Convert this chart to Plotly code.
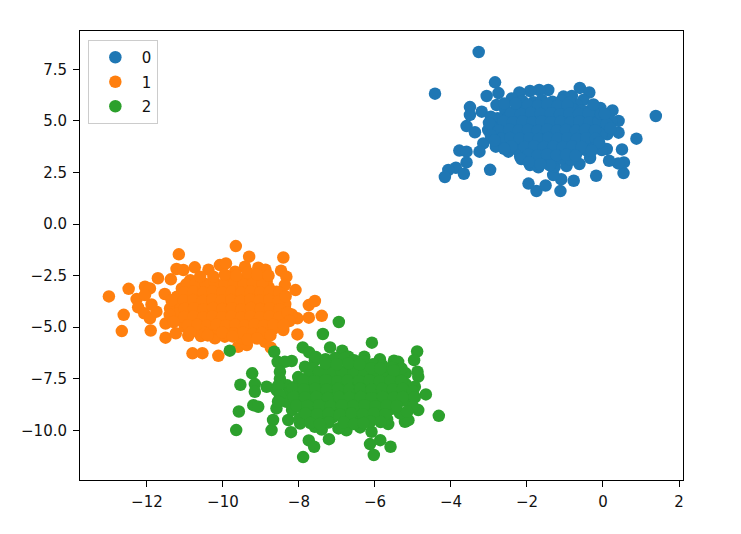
import plotly.graph_objects as go

# points, (x, y)
points_0 = [
    (-3.27, 8.34), (-4.42, 6.32), (-2.84, 6.87), (-2.75, 6.35), (-3.06, 6.21), (-3.50, 5.67),
    (-3.50, 5.29), (-3.59, 4.75), (-3.37, 4.45), (-3.15, 3.91), (-3.78, 3.56), (-3.59, 3.51),
    (-3.59, 2.99), (-3.25, 3.51), (-3.87, 2.73), (-4.07, 2.62), (-4.16, 2.28), (-3.66, 2.44),
    (-2.97, 2.63), (-2.82, 3.75), (-1.96, 1.96), (-1.75, 1.60), (-1.51, 1.87), (-1.12, 1.60),
    (-1.10, 2.17), (-0.77, 2.10), (-0.18, 2.34), (0.54, 2.47), (0.55, 2.99), (0.40, 2.94),
    (0.16, 3.07), (0.10, 3.64), (0.50, 3.62), (0.88, 4.14), (1.39, 5.24), (0.41, 4.43),
    (0.41, 5.00), (0.25, 5.51), (-0.07, 5.63), (0.11, 4.35), (-0.34, 3.20), (-0.62, 2.91),
    (-0.96, 2.81), (-1.31, 2.38), (-1.27, 2.78), (-0.61, 6.60), (-0.36, 6.38), (-0.52, 6.01),
    (-0.82, 6.21), (-1.04, 6.18), (-1.44, 6.50), (-1.68, 6.50), (-1.92, 6.45), (-2.20, 6.38),
    (-2.40, 6.09), (-2.80, 5.77), (-3.19, 5.45), (-3.02, 4.56), (-2.49, 3.51), (-2.18, 3.27),
    (-1.92, 2.86), (-1.70, 2.75), (-0.03, 3.59), (-0.17, 3.91), (0.23, 4.96), (0.01, 5.12),
    (-0.43, 5.45), (-0.69, 5.77),
    (-2.12, 5.97), (-1.83, 5.91), (-1.61, 6.02), (-1.33, 5.93), (-1.09, 5.99), (-0.87, 5.88),
    (-2.57, 5.52), (-2.28, 5.61), (-2.03, 5.49), (-1.82, 5.58), (-1.53, 5.51), (-1.31, 5.62),
    (-1.04, 5.47), (-0.79, 5.56), (-0.57, 5.49), (-0.28, 5.58),
    (-2.77, 5.13), (-2.48, 5.21), (-2.26, 5.08), (-1.98, 5.18), (-1.77, 5.11), (-1.49, 5.22),
    (-1.24, 5.09), (-1.02, 5.17), (-0.73, 5.12), (-0.51, 5.23), (-0.24, 5.07),
    (-2.92, 4.73), (-2.64, 4.81), (-2.41, 4.69), (-2.13, 4.78), (-1.92, 4.72), (-1.63, 4.83),
    (-1.41, 4.68), (-1.14, 4.79), (-0.91, 4.71), (-0.64, 4.82), (-0.42, 4.69), (-0.13, 4.77),
    (0.12, 4.72),
    (-2.81, 4.33), (-2.53, 4.41), (-2.31, 4.29), (-2.04, 4.38), (-1.79, 4.31), (-1.56, 4.42),
    (-1.28, 4.28), (-1.06, 4.37), (-0.78, 4.32), (-0.56, 4.43), (-0.29, 4.27), (-0.04, 4.36),
    (-2.62, 3.93), (-2.33, 4.01), (-2.11, 3.89), (-1.84, 3.98), (-1.58, 3.91), (-1.36, 4.02),
    (-1.08, 3.88), (-0.86, 3.97), (-0.59, 3.92), (-0.34, 4.03),
    (-2.21, 3.53), (-1.93, 3.61), (-1.71, 3.49), (-1.44, 3.58), (-1.18, 3.52), (-0.96, 3.62),
    (-0.69, 3.48), (-0.44, 3.57),
    (-1.86, 3.13), (-1.58, 3.21), (-1.36, 3.08), (-1.09, 3.17), (-0.84, 3.11),
    # dense middle of the blob
    (-1.97, 5.78), (-1.71, 5.74), (-1.46, 5.79), (-1.19, 5.73), (-0.94, 5.76), (-2.42, 5.36),
    (-2.16, 5.33), (-1.89, 5.38), (-1.64, 5.34), (-1.37, 5.37), (-1.13, 5.32), (-0.88, 5.36),
    (-0.63, 5.33), (-0.38, 5.37), (-2.62, 4.96), (-2.37, 4.94), (-2.11, 4.98), (-1.86, 4.93),
    (-1.61, 4.97), (-1.37, 4.94), (-1.11, 4.96), (-0.86, 4.92), (-0.62, 4.97), (-0.36, 4.94),
    (-0.12, 4.96), (-2.74, 4.54), (-2.47, 4.57), (-2.22, 4.53), (-1.97, 4.56), (-1.72, 4.52),
    (-1.47, 4.57), (-1.21, 4.53), (-0.97, 4.56), (-0.71, 4.52), (-0.47, 4.57), (-0.21, 4.54),
    (-2.68, 4.14), (-2.44, 4.17), (-2.19, 4.13), (-1.94, 4.16), (-1.69, 4.12), (-1.44, 4.17),
    (-1.19, 4.13), (-0.94, 4.16), (-0.69, 4.12), (-0.44, 4.16), (-0.19, 4.13), (-2.41, 3.76),
    (-2.06, 3.74), (-1.81, 3.77), (-1.56, 3.73), (-1.31, 3.76), (-1.06, 3.73), (-0.81, 3.77),
    (-0.56, 3.74), (-1.97, 3.36), (-1.72, 3.33), (-1.47, 3.37), (-1.22, 3.33), (-0.97, 3.36),
    (-0.72, 3.32),
    # outer edge of the mass
    (-2.95, 5.20), (-3.00, 4.90), (-2.95, 4.30), (-2.85, 4.05), (-2.60, 3.65), (-0.05, 5.35),
    (0.10, 4.85), (0.20, 4.65), (-0.10, 3.95), (-0.30, 3.55), (-2.15, 3.15), (-1.95, 3.00),
    (-1.40, 2.85), (-1.65, 2.90), (-2.60, 5.85), (-2.30, 5.85), (-0.25, 5.80), (0.05, 5.35),
]

points_1 = [
    (-9.66, -1.07), (-11.16, -1.47), (-9.31, -1.58), (-8.41, -1.62), (-9.42, -2.07), (-10.74, -2.10),
    (-11.22, -2.18), (-11.04, -2.23), (-10.38, -2.21), (-10.08, -1.99), (-9.92, -1.91), (-9.07, -2.12),
    (-8.88, -2.21), (-8.47, -2.26), (-8.33, -2.55), (-11.71, -2.63), (-11.37, -2.68), (-9.68, -2.31),
    (-12.05, -3.04), (-11.92, -3.12), (-12.48, -3.14), (-13.00, -3.51), (-8.09, -3.20), (-8.37, -2.96),
    (-11.53, -3.39), (-12.27, -3.64), (-12.23, -4.04), (-12.07, -4.33), (-11.92, -4.57), (-11.75, -4.25),
    (-11.88, -3.90), (-12.05, -3.44), (-12.61, -4.40), (-12.66, -5.19), (-11.90, -5.16), (-11.51, -4.82),
    (-11.51, -5.51), (-11.24, -5.30), (-10.91, -5.42), (-10.58, -5.43), (-10.21, -5.54), (-9.95, -5.46),
    (-9.60, -5.95), (-9.37, -5.87), (-10.80, -6.27), (-10.54, -6.26), (-10.12, -6.39), (-8.89, -5.71),
    (-8.74, -5.99), (-8.81, -5.14), (-8.41, -5.14), (-8.04, -5.35), (-7.74, -4.54), (-7.40, -4.45),
    (-7.74, -3.93), (-7.58, -3.73), (-8.04, -4.57), (-8.19, -4.38), (-8.37, -4.01), (-8.59, -3.28),
    (-8.85, -2.80), (-11.39, -4.09), (-11.00, -4.98), (-9.16, -5.38), (-9.51, -5.54),
    (-10.86, -2.72), (-10.61, -2.66), (-9.91, -2.69), (-9.63, -2.74), (-9.41, -2.65), (-9.13, -2.71),
    (-8.92, -2.67),
    (-11.08, -3.12), (-10.81, -3.05), (-10.53, -3.14), (-10.31, -3.07), (-10.04, -3.11), (-9.79, -3.04),
    (-9.56, -3.13), (-9.28, -3.06), (-9.06, -3.12), (-8.79, -3.08),
    (-11.21, -3.52), (-10.93, -3.47), (-10.71, -3.55), (-10.44, -3.46), (-10.19, -3.53), (-9.96, -3.48),
    (-9.68, -3.54), (-9.46, -3.45), (-9.18, -3.52), (-8.96, -3.49), (-8.69, -3.56), (-8.46, -3.48),
    (-11.12, -3.92), (-10.84, -3.87), (-10.62, -3.95), (-10.33, -3.86), (-10.11, -3.93), (-9.84, -3.88),
    (-9.59, -3.94), (-9.36, -3.85), (-9.09, -3.92), (-8.86, -3.89), (-8.58, -3.96), (-8.36, -3.88),
    (-11.19, -4.32), (-10.91, -4.27), (-10.69, -4.35), (-10.41, -4.26), (-10.16, -4.33), (-9.94, -4.28),
    (-9.66, -4.34), (-9.44, -4.25), (-9.16, -4.32), (-8.94, -4.29), (-8.66, -4.36), (-8.44, -4.28),
    (-11.06, -4.72), (-10.78, -4.67), (-10.56, -4.75), (-10.28, -4.66), (-10.03, -4.73), (-9.81, -4.68),
    (-9.53, -4.74), (-9.31, -4.65), (-9.03, -4.72), (-8.81, -4.69), (-8.53, -4.76),
    (-10.88, -5.12), (-10.63, -5.07), (-10.36, -5.15), (-10.13, -5.06), (-9.86, -5.13), (-9.63, -5.08),
    (-9.36, -5.14), (-9.11, -5.05), (-8.86, -5.12), (-8.68, -5.09),
    # dense middle of the blob
    (-10.96, -2.92), (-10.71, -2.87), (-10.46, -2.91), (-10.21, -2.86), (-9.96, -2.93), (-9.71, -2.88),
    (-9.46, -2.92), (-9.21, -2.87), (-8.96, -2.91), (-11.02, -3.31), (-10.77, -3.28), (-10.52, -3.33),
    (-10.27, -3.27), (-10.02, -3.32), (-9.77, -3.28), (-9.52, -3.33), (-9.27, -3.27), (-9.02, -3.32),
    (-8.77, -3.28), (-8.52, -3.33), (-11.03, -3.71), (-10.78, -3.68), (-10.53, -3.73), (-10.28, -3.67),
    (-10.03, -3.72), (-9.78, -3.68), (-9.53, -3.73), (-9.28, -3.67), (-9.03, -3.72), (-8.78, -3.68),
    (-8.53, -3.73), (-11.01, -4.11), (-10.76, -4.08), (-10.51, -4.13), (-10.26, -4.07), (-10.01, -4.12),
    (-9.76, -4.08), (-9.51, -4.13), (-9.26, -4.07), (-9.01, -4.12), (-8.76, -4.08), (-8.51, -4.13),
    (-11.02, -4.51), (-10.77, -4.48), (-10.52, -4.53), (-10.27, -4.47), (-10.02, -4.52), (-9.77, -4.48),
    (-9.52, -4.53), (-9.27, -4.47), (-9.02, -4.52), (-8.77, -4.48), (-8.52, -4.53), (-10.92, -4.91),
    (-10.67, -4.88), (-10.42, -4.93), (-10.17, -4.87), (-9.92, -4.92), (-9.67, -4.88), (-9.42, -4.93),
    (-9.17, -4.87), (-8.92, -4.92), (-8.67, -4.88), (-10.47, -5.28), (-10.02, -5.26), (-9.72, -5.31),
    (-9.47, -5.27), (-9.22, -5.32), (-8.97, -5.28),
    # outer edge of the mass
    (-11.35, -3.70), (-11.40, -4.40), (-11.30, -4.75), (-8.35, -3.50), (-8.30, -4.30), (-8.25, -4.70),
    (-8.40, -4.90), (-10.60, -2.55), (-10.25, -2.55), (-9.95, -2.45), (-9.65, -2.50), (-9.35, -2.35),
    (-9.10, -2.45), (-8.80, -2.50), (-10.85, -5.25), (-10.40, -5.40), (-9.75, -5.45), (-9.35, -5.60),
    (-9.10, -5.55), (-8.75, -5.40),
]

points_2 = [
    (-9.82, -6.14), (-6.95, -4.75), (-7.37, -5.33), (-6.08, -5.75), (-4.89, -6.18), (-4.97, -6.60),
    (-7.90, -5.98), (-7.73, -6.22), (-7.18, -5.98), (-6.86, -6.14), (-8.65, -6.19), (-8.56, -6.68),
    (-8.19, -6.64), (-8.37, -6.68), (-9.23, -7.24), (-9.54, -7.79), (-9.16, -7.76), (-9.16, -8.13),
    (-8.85, -7.89), (-8.59, -8.05), (-8.50, -7.16), (-9.20, -8.78), (-9.07, -8.86), (-9.58, -9.09),
    (-8.68, -9.50), (-8.72, -9.99), (-9.65, -9.99), (-8.21, -10.09), (-7.74, -10.49), (-7.60, -10.80),
    (-7.89, -11.30), (-7.21, -10.43), (-6.75, -10.00), (-6.96, -9.91), (-7.40, -9.96), (-6.39, -9.86),
    (-6.09, -10.07), (-6.13, -10.67), (-5.86, -10.48), (-6.03, -11.20), (-5.59, -10.80), (-5.65, -9.70),
    (-5.21, -9.59), (-5.12, -9.51), (-4.32, -9.30), (-4.86, -9.02), (-4.66, -8.26), (-4.86, -7.40),
    (-4.88, -7.16), (-5.19, -7.24), (-5.50, -6.63), (-5.39, -6.68), (-5.87, -6.55), (-6.28, -6.43),
    (-5.74, -7.16), (-8.59, -8.94), (-8.28, -9.50), (-7.97, -9.67), (-7.58, -9.83), (-4.95, -7.89),
    (-5.08, -8.54), (-5.34, -9.18), (-6.09, -7.16), (-6.70, -6.43), (-7.58, -6.60), (-7.84, -6.92),
    (-7.62, -7.02), (-7.28, -6.96), (-7.03, -7.05), (-6.68, -6.94), (-6.42, -7.03), (-6.13, -6.97),
    (-8.02, -7.42), (-7.74, -7.36), (-7.46, -7.45), (-7.17, -7.37), (-6.88, -7.43), (-6.61, -7.35),
    (-6.32, -7.44), (-6.04, -7.38), (-5.76, -7.46), (-5.47, -7.36),
    (-8.31, -7.82), (-8.03, -7.76), (-7.72, -7.85), (-7.44, -7.77), (-7.13, -7.83), (-6.86, -7.75),
    (-6.57, -7.84), (-6.27, -7.78), (-5.99, -7.86), (-5.68, -7.76), (-5.41, -7.83), (-5.18, -7.77),
    (-8.28, -8.22), (-7.99, -8.16), (-7.68, -8.25), (-7.41, -8.17), (-7.09, -8.23), (-6.82, -8.15),
    (-6.53, -8.24), (-6.23, -8.18), (-5.94, -8.26), (-5.65, -8.16), (-5.37, -8.23), (-5.13, -8.17),
    (-8.33, -8.62), (-8.04, -8.56), (-7.73, -8.65), (-7.45, -8.57), (-7.14, -8.63), (-6.87, -8.55),
    (-6.58, -8.64), (-6.28, -8.58), (-5.99, -8.66), (-5.70, -8.56), (-5.42, -8.63), (-5.21, -8.57),
    (-8.18, -9.02), (-7.89, -8.96), (-7.58, -9.05), (-7.31, -8.97), (-6.99, -9.03), (-6.72, -8.95),
    (-6.43, -9.04), (-6.13, -8.98), (-5.84, -9.06), (-5.55, -8.96),
    (-7.98, -9.42), (-7.69, -9.36), (-7.38, -9.45), (-7.11, -9.37), (-6.79, -9.43), (-6.52, -9.35),
    (-6.23, -9.44), (-5.93, -9.38), (-5.68, -9.46),
    # dense middle of the blob
    (-7.47, -7.18), (-7.17, -7.21), (-6.87, -7.17), (-6.57, -7.22), (-6.27, -7.18), (-7.89, -7.58),
    (-7.59, -7.61), (-7.29, -7.57), (-6.99, -7.62), (-6.72, -7.58), (-6.42, -7.61), (-6.14, -7.57),
    (-5.87, -7.62), (-5.59, -7.58), (-5.31, -7.61), (-8.17, -7.99), (-7.87, -8.02), (-7.57, -7.98),
    (-7.27, -8.03), (-6.97, -7.99), (-6.67, -8.02), (-6.39, -7.98), (-6.09, -8.03), (-5.81, -7.99),
    (-5.53, -8.02), (-5.27, -7.98), (-8.14, -8.39), (-7.84, -8.42), (-7.54, -8.38), (-7.24, -8.43),
    (-6.94, -8.39), (-6.67, -8.42), (-6.37, -8.38), (-6.09, -8.43), (-5.79, -8.39), (-5.51, -8.42),
    (-5.26, -8.38), (-8.07, -8.79), (-7.77, -8.82), (-7.47, -8.78), (-7.17, -8.83), (-6.87, -8.79),
    (-6.57, -8.82), (-6.27, -8.78), (-5.99, -8.83), (-5.69, -8.79), (-5.43, -8.82), (-7.82, -9.19),
    (-7.52, -9.22), (-7.22, -9.18), (-6.92, -9.23), (-6.62, -9.19), (-6.32, -9.22), (-6.02, -9.18),
    (-5.72, -9.22), (-7.22, -9.62), (-6.82, -9.61), (-6.12, -9.58),
    # outer edge of the mass
    (-7.55, -6.45), (-7.30, -6.55), (-7.05, -6.50), (-6.80, -6.50), (-6.55, -6.60), (-6.30, -6.65),
    (-6.05, -6.80), (-5.80, -6.85), (-5.55, -6.95), (-5.30, -7.00), (-7.30, -6.75), (-7.00, -6.80),
    (-6.70, -6.75), (-6.40, -6.80), (-6.10, -7.00), (-5.85, -7.00), (-5.50, -7.10), (-7.70, -9.65),
    (-7.45, -9.70), (-6.55, -9.70), (-6.30, -9.65), (-5.85, -9.60), (-8.50, -7.50), (-8.55, -7.85),
    (-8.50, -8.30), (-8.55, -8.60), (-5.00, -8.10), (-4.95, -8.40), (-5.00, -8.85), (-5.15, -9.10),
]

series_names = ["0", "1", "2"]
series_points = [points_0, points_1, points_2]
series_colors = ["#1f77b4", "#ff7f0e", "#2ca02c"]

x_ticks = [-12, -10, -8, -6, -4, -2, 0, 2]
y_ticks = [-10.0, -7.5, -5.0, -2.5, 0.0, 2.5, 5.0, 7.5]

fig = go.Figure()
for name, points, color in zip(series_names, series_points, series_colors):
    fig.add_trace(go.Scatter(
        x=[p[0] for p in points],
        y=[p[1] for p in points],
        mode="markers",
        name=name,
        legendgroup=name,
        marker=dict(color=color, size=12.5, line=dict(width=0)),
    ))

axis_style = dict(
    showgrid=False, zeroline=False, showline=True, mirror=True,
    linecolor="black", linewidth=1,
    ticks="outside", ticklen=6, tickwidth=1, tickcolor="black",
)
fig.update_xaxes(range=[-13.76, 2.105], tickvals=x_ticks, ticklabelstandoff=2, **axis_style)
fig.update_yaxes(range=[-12.41, 9.36], tickvals=y_ticks, tickformat=".1f",
                 ticklabelstandoff=3, **axis_style)

fig.update_layout(
    width=741, height=534,
    margin=dict(l=80, r=58, t=31, b=54),
    plot_bgcolor="white", paper_bgcolor="white",
    font=dict(family="DejaVu Sans", size=15, color="#111111"),
    legend=dict(
        x=0.013, y=0.98, xanchor="left", yanchor="top",
        bgcolor="white", bordercolor="#cccccc", borderwidth=1,
        tracegroupgap=2, itemwidth=43,
    ),
)

fig.write_html("out.html", config={"displayModeBar": False},
               post_script="document.body.style.margin='0';")
